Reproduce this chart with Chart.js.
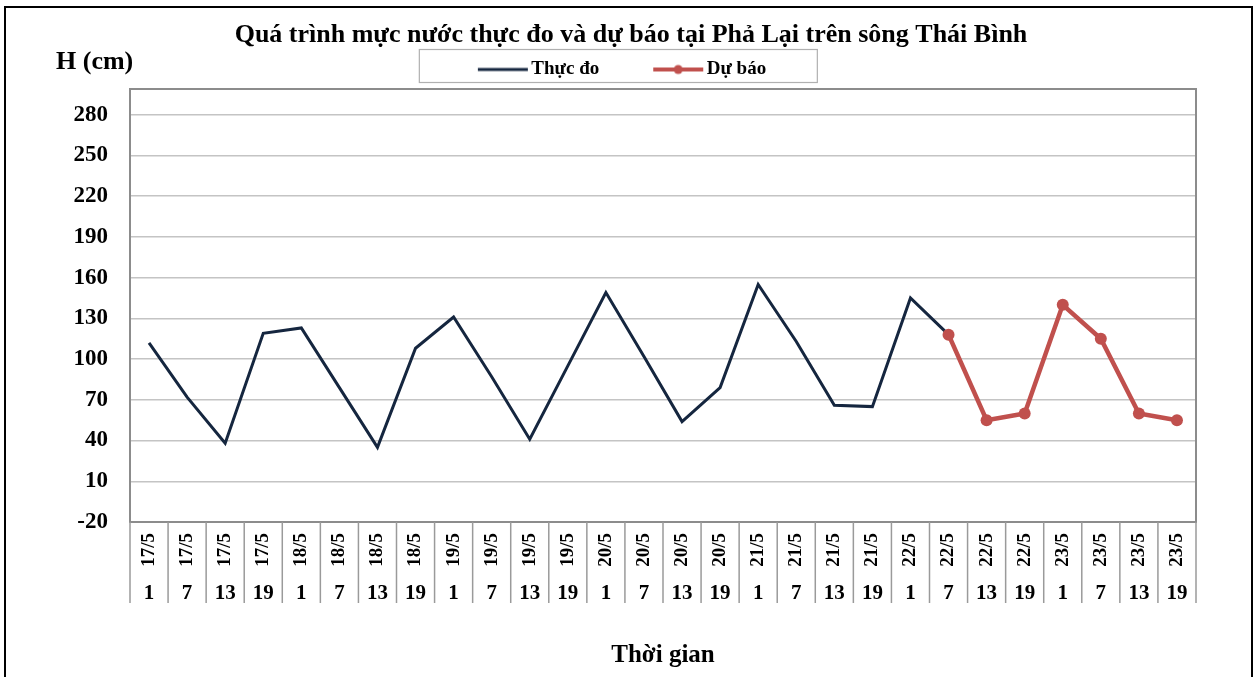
<!DOCTYPE html>
<html><head><meta charset="utf-8">
<script src="https://cdn.jsdelivr.net/npm/chart.js@4.4.0/dist/chart.umd.min.js"></script>
<style>html,body{margin:0;padding:0;background:#fff;}#wrap{width:1257px;height:677px;position:relative;}</style>
</head><body><div id="wrap"><canvas id="c"></canvas></div>
<script>
const chartTitle = 'Quá trình mực nước thực đo và dự báo tại Phả Lại trên sông Thái Bình';
const yAxisLabel = 'H (cm)';
const xAxisLabel = 'Thời gian';
const dateLabels = ['17/5','17/5','17/5','17/5','18/5','18/5','18/5','18/5','19/5','19/5','19/5','19/5','20/5','20/5','20/5','20/5','21/5','21/5','21/5','21/5','22/5','22/5','22/5','22/5','23/5','23/5','23/5','23/5'];
const hourLabels = ['1','7','13','19','1','7','13','19','1','7','13','19','1','7','13','19','1','7','13','19','1','7','13','19','1','7','13','19'];
const observed = [112,72,38,119,123,79,35,108,131,87,41,95,149,102,54,79,155,113,66,65,145,118,null,null,null,null,null,null];
const forecast = [null,null,null,null,null,null,null,null,null,null,null,null,null,null,null,null,null,null,null,null,null,118,55,60,140,115,60,55];
const yTicks = [-20,10,40,70,100,130,160,190,220,250,280];
const yMin = -20, yMax = 299;

const NAVY = '#15263f', RED = '#c0504d';
const SERIF = "'Liberation Serif','Times New Roman',serif";

function legendImg(color, width, dot) {
  const c = document.createElement('canvas');
  c.width = 100; c.height = 12;
  const g = c.getContext('2d');
  g.strokeStyle = color; g.lineWidth = width;
  g.beginPath(); g.moveTo(47, 6); g.lineTo(97, 6); g.stroke();
  if (dot) { g.fillStyle = color; g.beginPath(); g.arc(72, 6, 4.5, 0, Math.PI * 2); g.fill(); }
  return c;
}
const legendImgs = [legendImg(NAVY, 3, false), legendImg(RED, 4, true)];

const deco = {
  id: 'deco',
  beforeDraw(chart) {
    const ctx = chart.ctx;
    ctx.save(); ctx.fillStyle = '#fff'; ctx.fillRect(0, 0, chart.width, chart.height); ctx.restore();
  },
  beforeDatasetsDraw(chart) {
    const ctx = chart.ctx, a = chart.chartArea, xs = chart.scales.x;
    ctx.save();
    ctx.strokeStyle = '#8c8c8c'; ctx.lineWidth = 2;
    ctx.strokeRect(a.left, a.top, a.right - a.left, a.bottom - a.top);
    const n = dateLabels.length;
    const half = (xs.getPixelForValue(1) - xs.getPixelForValue(0)) / 2;
    ctx.strokeStyle = '#9a9a9a'; ctx.lineWidth = 1.5;
    for (let i = 0; i <= n; i++) {
      const px = i < n ? xs.getPixelForValue(i) - half : xs.getPixelForValue(n - 1) + half;
      ctx.beginPath(); ctx.moveTo(px, a.bottom); ctx.lineTo(px, xs.bottom + 31); ctx.stroke();
    }
    ctx.restore();
  },
  afterDraw(chart) {
    const ctx = chart.ctx;
    ctx.save();
    ctx.strokeStyle = '#000'; ctx.lineWidth = 2;
    ctx.strokeRect(5, 7, 1247, 690);
    ctx.fillStyle = '#000';
    ctx.textBaseline = 'middle';
    ctx.textAlign = 'center';
    ctx.font = "bold 26px " + SERIF;
    ctx.fillText(chartTitle, 631, 35);
    ctx.textAlign = 'left';
    ctx.font = "bold 26px " + SERIF;
    ctx.fillText(yAxisLabel, 56, 62);
    const hb = chart.legend.legendHitBoxes;
    if (hb && hb.length) {
      const cy = hb[0].top + hb[0].height / 2;
      ctx.strokeStyle = '#b0b0b0'; ctx.lineWidth = 1.2;
      ctx.strokeRect(hb[0].left - 20.5, cy - 20, 398, 33);
    }
    ctx.restore();
  }
};

new Chart(document.getElementById('c'), {
  type: 'line',
  data: {
    labels: dateLabels,
    datasets: [
      { label: 'Thực đo', data: observed, xAxisID: 'x', borderColor: NAVY, backgroundColor: NAVY, borderWidth: 3, pointRadius: 0, pointHoverRadius: 0, tension: 0, order: 1 },
      { label: 'Dự báo', data: forecast, xAxisID: 'x', borderColor: RED, backgroundColor: RED, borderWidth: 4.5, pointRadius: 6, pointHoverRadius: 6, pointBorderWidth: 0, tension: 0, order: 0 }
    ]
  },
  options: {
    responsive: true, maintainAspectRatio: false, animation: false,
    layout: { padding: { top: 44, left: 10, right: 61, bottom: 4 } },
    plugins: {
      tooltip: { enabled: false },
      title: { display: false },
      legend: {
        display: true, position: 'top',
        labels: {
          usePointStyle: true, pointStyleWidth: 82, padding: 16, color: '#000',
          font: { family: SERIF, size: 19, weight: 'bold' },
          generateLabels: (chart) => chart.data.datasets.map((ds, i) => ({
            text: ds.label, pointStyle: legendImgs[i], fillStyle: ds.borderColor, strokeStyle: ds.borderColor,
            lineWidth: 0, hidden: false, datasetIndex: i, fontColor: '#000'
          }))
        }
      }
    },
    scales: {
      x: {
        type: 'category', labels: dateLabels, position: 'bottom', offset: true,
        grid: { display: false, drawTicks: false }, border: { display: false },
        ticks: { autoSkip: false, minRotation: 90, maxRotation: 90, padding: 11, color: '#000', font: { family: SERIF, size: 19, weight: 'bold' } },
        afterFit: (s) => { s.height = 50; }
      },
      x2: {
        type: 'category', labels: hourLabels, position: 'bottom', offset: true,
        grid: { display: false, drawTicks: false }, border: { display: false },
        ticks: { autoSkip: false, minRotation: 0, maxRotation: 0, padding: 9, color: '#000', font: { family: SERIF, size: 21, weight: 'bold' } },
        title: { display: true, text: xAxisLabel, color: '#000', font: { family: SERIF, size: 25, weight: 'bold' }, padding: { top: 0, bottom: 2 } },
        afterFit: (s) => { s.height = 101; }
      },
      y: {
        type: 'linear', min: yMin, max: yMax,
        afterBuildTicks: (s) => { s.ticks = yTicks.map(v => ({ value: v })); },
        grid: { color: '#c4c4c4', lineWidth: 1.5, drawTicks: false }, border: { display: false },
        ticks: { padding: 22, color: '#000', font: { family: SERIF, size: 23, weight: 'bold' } },
        afterFit: (s) => { s.width = 120; }
      }
    }
  },
  plugins: [deco]
});
</script>
</body></html>
